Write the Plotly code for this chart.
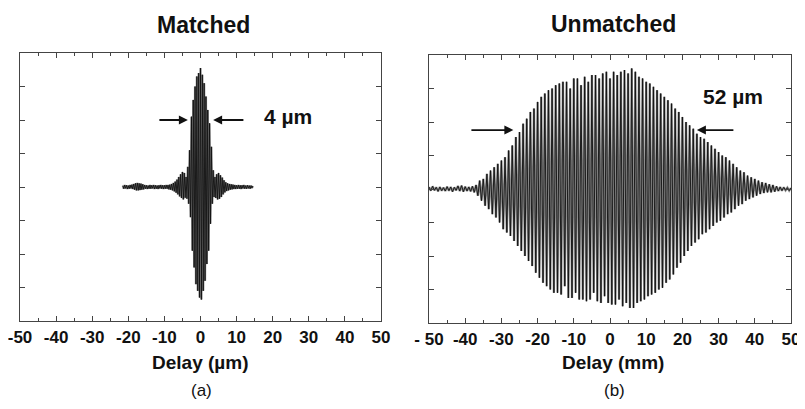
import numpy as np
import plotly.graph_objects as go

# ---------------- data ----------------
# Matched interferogram: signed fringe extremes, sampled every 0.25 µm from -21.5 µm
matched_start = -21.5
matched_step = 0.25
matched_values = [
    0.04, -0.05, 0.06, -0.04, 0.05, -0.06, 0.04, -0.05, 0.06, -0.04,
    0.07, -0.06, 0.09, -0.08, 0.11, -0.10, 0.12, -0.10, 0.11, -0.09,
    0.10, -0.08, 0.08, -0.07, 0.06, -0.05, 0.05, -0.06, 0.04, -0.05,
    0.06, -0.05, 0.05, -0.04, 0.06, -0.06, 0.05, -0.05, 0.04, -0.06,
    0.05, -0.04, 0.06, -0.05, 0.05, -0.06, 0.05, -0.05, 0.06, -0.05,
    0.06, -0.07, 0.07, -0.08, 0.09, -0.10, 0.12, -0.13, 0.16, -0.17,
    0.22, -0.22, 0.30, -0.28, 0.38, -0.33, 0.45, -0.37, 0.42, -0.32,
    0.30, -0.35, 0.60, -0.50, 1.10, -0.90, 2.10, -1.90, 2.60, -2.40,
    3.00, -2.90, 3.30, -3.10, 3.40, -3.30, 3.55, -3.36, 3.35, -3.10,
    3.10, -2.80, 2.70, -2.30, 2.30, -1.90, 1.90, -1.10, 1.20, -0.50,
    0.50, -0.30, 0.30, -0.33, 0.38, -0.37, 0.42, -0.35, 0.35, -0.30,
    0.28, -0.22, 0.20, -0.16, 0.14, -0.12, 0.11, -0.10, 0.09, -0.08,
    0.08, -0.07, 0.07, -0.06, 0.06, -0.06, 0.05, -0.05, 0.06, -0.05,
    0.05, -0.06, 0.05, -0.04, 0.06, -0.05, 0.04, -0.05, 0.05, -0.04,
    0.04, -0.05, 0.04, -0.03, 0.03,
]

# Unmatched interferogram: signed fringe extremes, sampled every 0.5 mm from -50 mm
unmatched_start = -50.0
unmatched_step = 0.5
unmatched_values = [
    # -50 .. -40.5
    0.06, -0.05, 0.08, -0.04, 0.05, -0.07, 0.06, -0.05, 0.04, -0.06,
    0.07, -0.05, 0.06, -0.08, 0.05, -0.04, 0.09, -0.06, 0.10, -0.08,
    # -40 .. -30.5
    0.07, -0.06, 0.06, -0.07, 0.08, -0.10, 0.12, -0.20, 0.25, -0.35,
    0.30, -0.50, 0.45, -0.60, 0.55, -0.75, 0.65, -0.85, 0.75, -1.00,
    # -30 .. -20.5
    0.85, -1.20, 0.95, -1.30, 1.15, -1.40, 1.30, -1.55, 1.55, -1.70,
    1.70, -1.85, 1.95, -2.00, 2.10, -2.15, 2.30, -2.30, 2.40, -2.50,
    # -20 .. -10.5
    2.60, -2.65, 2.75, -2.80, 2.85, -2.90, 2.95, -3.00, 3.00, -3.10,
    3.10, -3.10, 3.15, -3.15, 3.20, -2.90, 3.20, -3.25, 3.00, -3.25,
    # -10 .. -0.5
    3.30, -3.10, 3.30, -3.30, 3.10, -3.30, 3.35, -3.35, 3.20, -3.30,
    3.40, -3.10, 3.40, -3.35, 3.30, -3.40, 3.45, -3.20, 3.50, -3.40,
    # 0 .. 9.5
    3.30, -3.45, 3.50, -3.45, 3.40, -3.30, 3.50, -3.50, 3.55, -3.40,
    3.45, -3.55, 3.60, -3.55, 3.50, -3.40, 3.35, -3.35, 3.30, -3.30,
    # 10 .. 19.5
    3.20, -3.20, 3.15, -3.15, 3.05, -3.10, 2.95, -3.00, 2.85, -2.95,
    2.75, -2.80, 2.65, -2.70, 2.55, -2.55, 2.40, -2.35, 2.30, -2.20,
    # 20 .. 29.5
    2.15, -2.00, 2.00, -1.85, 1.90, -1.70, 1.80, -1.60, 1.65, -1.50,
    1.55, -1.35, 1.50, -1.30, 1.40, -1.20, 1.30, -1.10, 1.20, -1.00,
    # 30 .. 39.5
    1.10, -0.95, 1.00, -0.85, 0.95, -0.75, 0.85, -0.70, 0.75, -0.60,
    0.65, -0.50, 0.55, -0.45, 0.50, -0.35, 0.40, -0.30, 0.35, -0.25,
    # 40 .. 50
    0.30, -0.20, 0.25, -0.15, 0.20, -0.12, 0.18, -0.10, 0.14, -0.10,
    0.12, -0.08, 0.08, -0.06, 0.06, -0.05, 0.05, -0.04, 0.04, -0.05,
    0.03,
]

x_tick_vals = [-50, -40, -30, -20, -10, 0, 10, 20, 30, 40, 50]
x_tick_text_a = ["-50", "-40", "-30", "-20", "-10", "0", "10", "20", "30", "40", "50"]
x_tick_text_b = ["- 50", "-40", "-30", "-20", "-10", "0", "10", "20", "30", "40", "50"]
x_minor_vals = [-45, -35, -25, -15, -5, 5, 15, 25, 35, 45]
y_tick_vals = [-4, -3, -2, -1, 0, 1, 2, 3, 4]

matched_x = matched_start + matched_step * np.arange(len(matched_values))
unmatched_x = unmatched_start + unmatched_step * np.arange(len(unmatched_values))

# ---------------- figure ----------------
# The page body has an 8px default margin: the figure is drawn 8px in from the
# top-left corner, so it is sized to fit the 805x409 window exactly.
OFF = 8
W, H = 805 - OFF, 409 - OFF
FONT = "Liberation Sans, Arial, sans-serif"
GRAY = "#8c8c8c"
BLACK = "#111111"
FRAME = "#444444"

fig = go.Figure()
for xs, ys, xa, ya in [(matched_x, matched_values, "x", "y"),
                       (unmatched_x, unmatched_values, "x2", "y2")]:
    fig.add_trace(go.Scatter(x=xs, y=ys, mode="lines",
                             line=dict(color=GRAY, width=2.3), xaxis=xa, yaxis=ya,
                             showlegend=False, hoverinfo="skip"))
    fig.add_trace(go.Scatter(x=xs, y=ys, mode="lines",
                             line=dict(color=BLACK, width=0.9), xaxis=xa, yaxis=ya,
                             showlegend=False, hoverinfo="skip"))


def px_x(p):
    return (p - OFF) / W


def px_y(p):
    return 1 - (p - OFF) / H


def xaxis_style(ticktext):
    return dict(range=[-50, 50], tickmode="array", tickvals=x_tick_vals,
                ticktext=[f"<b>{t}</b>" for t in ticktext],
                ticks="inside", ticklen=5, tickwidth=1, tickcolor=FRAME,
                showline=True, linecolor=FRAME, linewidth=1, mirror="ticks",
                showgrid=False, zeroline=False, fixedrange=True, automargin=False,
                tickfont=dict(family=FONT, size=17, color="#111"),
                ticklabelstandoff=1, ticklabeloverflow="allow",
                minor=dict(tickvals=x_minor_vals, ticks="inside", ticklen=3,
                           tickcolor=FRAME, showgrid=False))


ycommon = dict(range=[-4, 4], tickmode="array", tickvals=y_tick_vals, showticklabels=False,
               ticks="inside", ticklen=5, tickwidth=1, tickcolor=FRAME,
               showline=True, linecolor=FRAME, linewidth=1, mirror="ticks",
               showgrid=False, zeroline=False, fixedrange=True, automargin=False)

fig.update_layout(
    width=W, height=H,
    margin=dict(l=0, r=0, t=0, b=0, autoexpand=False),
    paper_bgcolor="white", plot_bgcolor="white",
    xaxis=dict(domain=[px_x(20), px_x(381)], anchor="y", **xaxis_style(x_tick_text_a)),
    yaxis=dict(domain=[px_y(321), px_y(53)], anchor="x", **ycommon),
    xaxis2=dict(domain=[px_x(429), px_x(791)], anchor="y2", **xaxis_style(x_tick_text_b)),
    yaxis2=dict(domain=[px_y(323), px_y(55)], anchor="x2", **ycommon),
)

ann = []
# titles and labels (paper coords)
for text, cx, cy, size, bold in [
    ("Matched", 203, 25, 23, True),
    ("Unmatched", 613, 24, 23, True),
    ("Delay (µm)", 200, 362, 19, True),
    ("Delay (mm)", 613, 362, 19, True),
    ("(a)", 201, 390, 17, False),
    ("(b)", 614, 390, 17, False),
]:
    ann.append(dict(text=f"<b>{text}</b>" if bold else text, x=px_x(cx), y=px_y(cy),
                    xref="paper", yref="paper", showarrow=False,
                    xanchor="center", yanchor="middle",
                    font=dict(family=FONT, size=size, color="#111")))

# width arrows and labels (data coords)
arrow_style = dict(showarrow=True, arrowhead=2, arrowsize=1, arrowwidth=1.8,
                   arrowcolor="#111", text="")
ann += [
    dict(x=-3.5, y=2.0, ax=-11.8, ay=2.0, xref="x", yref="y", axref="x", ayref="y", **arrow_style),
    dict(x=3.5, y=2.0, ax=12.3, ay=2.0, xref="x", yref="y", axref="x", ayref="y", **arrow_style),
    dict(text="<b>4 µm</b>", x=24.2, y=2.1, xref="x", yref="y", showarrow=False,
         font=dict(family=FONT, size=21, color="#111")),
    dict(x=-26.7, y=1.76, ax=-38.7, ay=1.76, xref="x2", yref="y2", axref="x2", ayref="y2", **arrow_style),
    dict(x=24.0, y=1.76, ax=34.5, ay=1.76, xref="x2", yref="y2", axref="x2", ayref="y2", **arrow_style),
    dict(text="<b>52 µm</b>", x=34.0, y=2.75, xref="x2", yref="y2", showarrow=False,
         font=dict(family=FONT, size=21, color="#111")),
]
fig.update_layout(annotations=ann)

fig.write_html("out.html")
